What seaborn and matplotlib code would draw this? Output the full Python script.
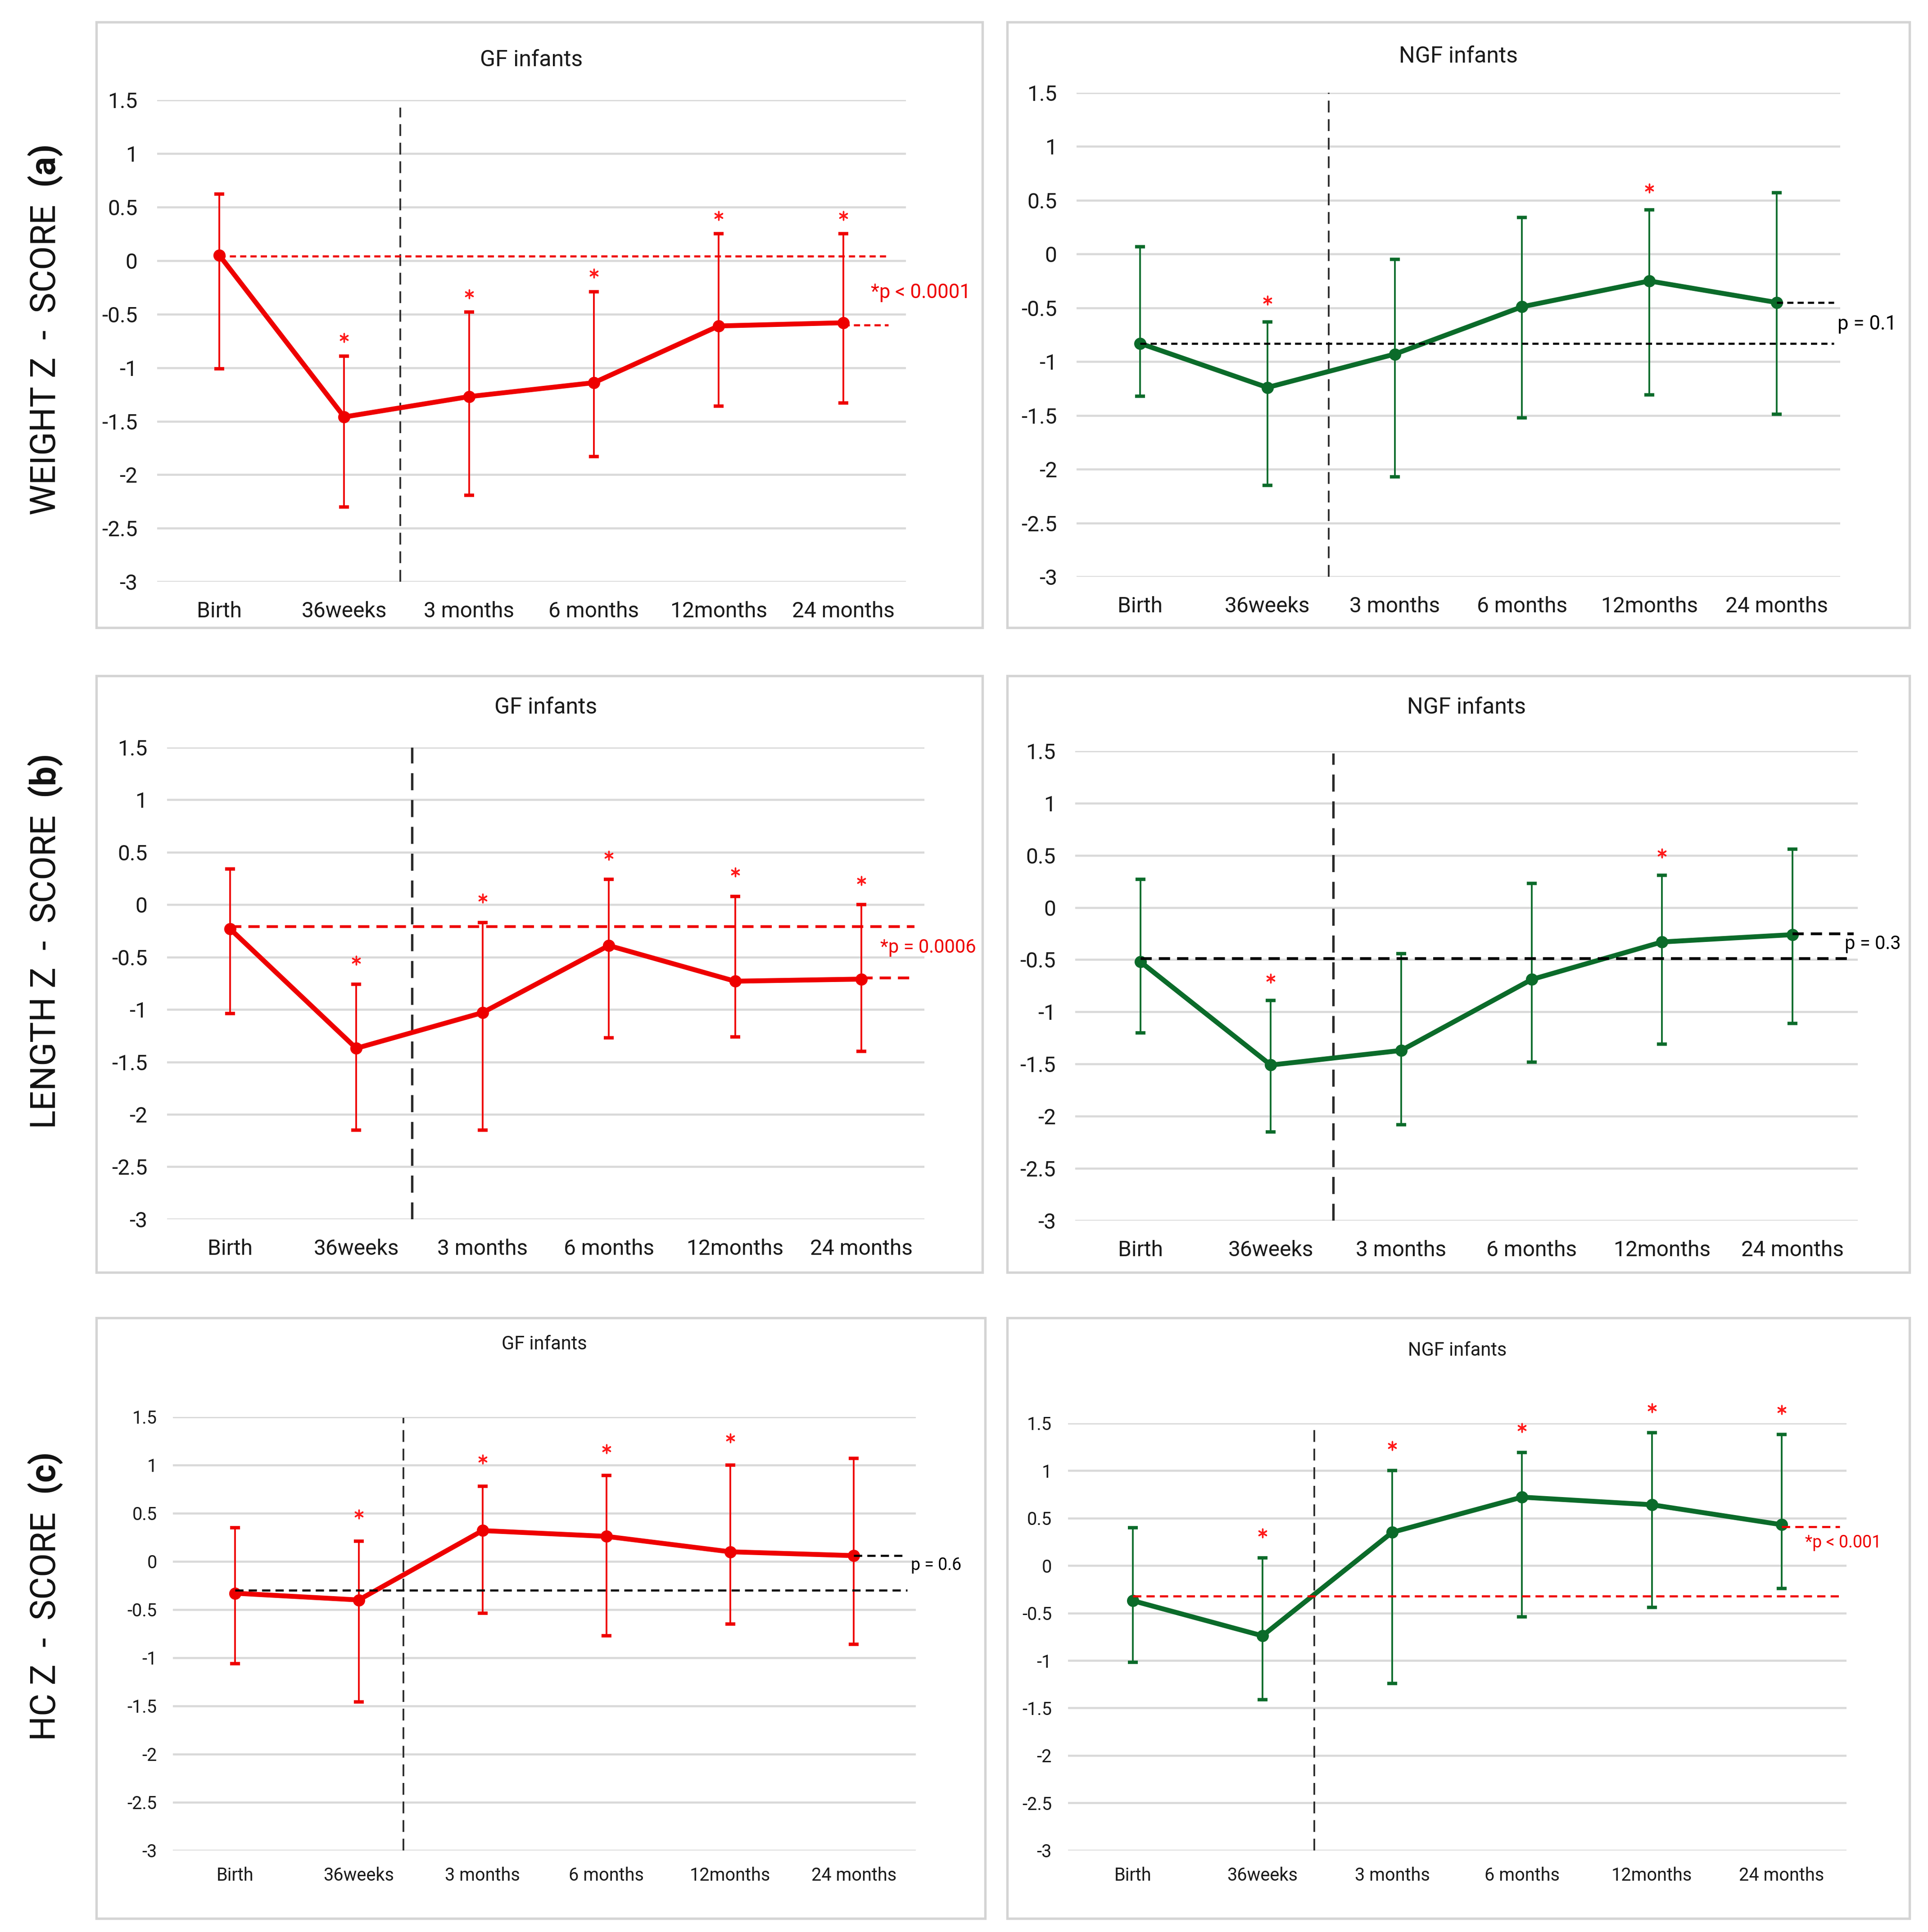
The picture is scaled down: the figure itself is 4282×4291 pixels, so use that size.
import numpy as np
import pandas as pd
import seaborn as sns
import matplotlib.pyplot as plt
from matplotlib.patches import Rectangle

# time points on the x axis
timepoints = ["Birth", "36weeks", "3 months", "6 months", "12months", "24 months"]

# WEIGHT z-score
weight_gf_mean = [0.05, -1.46, -1.27, -1.14, -0.61, -0.58]
weight_gf_upper = [0.62, -0.89, -0.48, -0.29, 0.25, 0.25]
weight_gf_lower = [-1.01, -2.30, -2.19, -1.83, -1.36, -1.33]
weight_gf_sig = [0, 1, 1, 1, 1, 1]
weight_ngf_mean = [-0.83, -1.24, -0.93, -0.49, -0.25, -0.45]
weight_ngf_upper = [0.07, -0.63, -0.05, 0.34, 0.41, 0.57]
weight_ngf_lower = [-1.32, -2.15, -2.07, -1.52, -1.31, -1.49]
weight_ngf_sig = [0, 1, 0, 0, 1, 0]

# LENGTH z-score
length_gf_mean = [-0.23, -1.37, -1.03, -0.39, -0.73, -0.71]
length_gf_upper = [0.34, -0.76, -0.17, 0.24, 0.08, 0.00]
length_gf_lower = [-1.04, -2.15, -2.15, -1.27, -1.26, -1.40]
length_gf_sig = [0, 1, 1, 1, 1, 1]
length_ngf_mean = [-0.52, -1.51, -1.37, -0.69, -0.33, -0.26]
length_ngf_upper = [0.27, -0.89, -0.44, 0.23, 0.31, 0.56]
length_ngf_lower = [-1.20, -2.15, -2.08, -1.48, -1.31, -1.11]
length_ngf_sig = [0, 1, 0, 0, 1, 0]

# HC z-score
hc_gf_mean = [-0.33, -0.40, 0.32, 0.26, 0.10, 0.06]
hc_gf_upper = [0.35, 0.21, 0.78, 0.89, 1.00, 1.07]
hc_gf_lower = [-1.06, -1.46, -0.54, -0.77, -0.65, -0.86]
hc_gf_sig = [0, 1, 1, 1, 1, 0]
hc_ngf_mean = [-0.37, -0.74, 0.35, 0.72, 0.64, 0.43]
hc_ngf_upper = [0.40, 0.08, 1.00, 1.19, 1.40, 1.38]
hc_ngf_lower = [-1.02, -1.41, -1.24, -0.54, -0.44, -0.24]
hc_ngf_sig = [0, 1, 1, 1, 1, 1]

# reference levels (birth vs 24 months) and p-values
weight_gf_ref = [0.04, -0.60]
weight_ngf_ref = [-0.83, -0.45]
length_gf_ref = [-0.21, -0.70]
length_ngf_ref = [-0.49, -0.25]
hc_gf_ref = [-0.30, 0.06]
hc_ngf_ref = [-0.32, 0.41]
p_labels = ["*p < 0.0001", "p = 0.1", "*p = 0.0006", "p = 0.3", "p = 0.6", "*p < 0.001"]

RED = "#ee0000"
GREEN = "#0b6b2a"

sns.set_theme(style="white")
plt.rcParams['font.family'] = ['Liberation Sans Narrow', 'Roboto', 'DejaVu Sans']
plt.rcParams['mathtext.fontset'] = 'custom'
plt.rcParams['mathtext.rm'] = 'Roboto'
plt.rcParams['mathtext.bf'] = 'Roboto:bold'

W, H = 1560, 1564  # layout measured on a 1560-wide view
fig = plt.figure(figsize=(4282 / 300, 4291 / 300), dpi=300)


def rect_from(x0, x1, ytop, ybot):
    return [x0 / W, 1 - ybot / H, (x1 - x0) / W, (ybot - ytop) / H]


def panel(rect, title, mean, upper, lower, sig, ref, plabel, color, ref_color,
          vline_x, vline_top, ptext_xy, fs, pfs, title_pad, star_off, ref_end,
          dash, ref_lw=1.1, vl_lw=0.9):
    ax = fig.add_axes(rect)
    x = np.arange(len(timepoints))
    mean = np.array(mean)
    upper = np.array(upper)
    lower = np.array(lower)
    df = pd.DataFrame({"x": x, "z": mean})

    for yv in np.arange(-3, 1.51, 0.5):
        ax.axhline(yv, color="#d9d9d9", lw=1.1, zorder=0)

    ax.errorbar(x, mean, yerr=[mean - lower, upper - mean], fmt="none",
                ecolor=color, elinewidth=0.9, capsize=2.6, capthick=1.8, zorder=3)
    sns.lineplot(data=df, x="x", y="z", color=color, lw=2.6, marker="o",
                 markersize=6.5, markeredgewidth=0, ax=ax, zorder=4)

    # reference dashed lines
    ax.plot([x[0], ref_end], [ref[0], ref[0]], ls=(0, dash), color=ref_color, lw=ref_lw, zorder=5)
    ax.plot([x[-1], ref_end], [ref[1], ref[1]], ls=(0, dash), color=ref_color, lw=ref_lw, zorder=5)
    ax.text(ptext_xy[0], ptext_xy[1], plabel, color=ref_color, fontsize=pfs,
            ha="left", va="center", clip_on=False)

    # vertical separator
    ax.plot([vline_x, vline_x], [-3, vline_top], ls=(0, (7, 4)), color="#2a2a2a",
            lw=vl_lw, zorder=2)

    # significance stars
    sx = x[np.array(sig) == 1]
    sy = upper[np.array(sig) == 1] + star_off
    ax.scatter(sx, sy, marker=(6, 2, 0), s=20, color="#ff1a1a", linewidths=0.8,
               zorder=6, clip_on=False)

    ax.set_xlim(-0.5, 5.5)
    ax.set_ylim(-3, 1.5)
    ax.set_yticks(np.arange(-3, 1.51, 0.5))
    ax.set_yticklabels([f"{v:g}" for v in np.arange(-3, 1.51, 0.5)])
    ax.set_xticks(x)
    ax.set_xticklabels(timepoints)
    ax.tick_params(axis="both", length=0, labelsize=fs, colors="#1a1a1a")
    ax.tick_params(axis="y", pad=fs * 0.9)
    ax.tick_params(axis="x", pad=fs * 0.9)
    ax.set_xlabel("")
    ax.set_ylabel("")
    for s in ax.spines.values():
        s.set_visible(False)
    ax.set_title(title, fontsize=fs + 0.5, pad=title_pad, color="#1a1a1a")
    return ax


# panel frames
for (x0, x1, y0, y1) in [(78, 795, 18, 508), (815, 1545, 18, 508),
                         (78, 795, 547, 1030), (815, 1545, 547, 1030),
                         (78, 797, 1067, 1553), (815, 1545, 1067, 1553)]:
    fig.add_artist(Rectangle((x0 / W, 1 - y1 / H), (x1 - x0) / W, (y1 - y0) / H,
                             transform=fig.transFigure, fill=False,
                             edgecolor="#d4d4d4", lw=1.3))

panel(rect_from(127, 733, 81, 471), "GF infants", weight_gf_mean, weight_gf_upper,
      weight_gf_lower, weight_gf_sig, weight_gf_ref, p_labels[0], RED, RED,
      1.45, 1.43, (5.22, -0.30), 11.5, 10.5, 18, 0.17, 5.36, (3, 2))
panel(rect_from(871, 1489, 75, 467), "NGF infants", weight_ngf_mean, weight_ngf_upper,
      weight_ngf_lower, weight_ngf_sig, weight_ngf_ref, p_labels[1], GREEN, "black",
      1.48, 1.5, (5.48, -0.65), 11.5, 10.5, 16, 0.2, 5.45, (3, 2))
panel(rect_from(135, 748, 605, 987), "GF infants", length_gf_mean, length_gf_upper,
      length_gf_lower, length_gf_sig, length_gf_ref, p_labels[2], RED, RED,
      1.44, 1.5, (5.15, -0.41), 11.5, 10, 18, 0.23, 5.42, (4, 2.5), 1.5, 1.3)
panel(rect_from(870, 1503, 608, 988), "NGF infants", length_ngf_mean, length_ngf_upper,
      length_ngf_lower, length_ngf_sig, length_ngf_ref, p_labels[3], GREEN, "black",
      1.48, 1.48, (5.4, -0.35), 11.5, 10, 20, 0.21, 5.47, (4, 2.5), 1.5, 1.3)
panel(rect_from(140, 741, 1147, 1498), "GF infants", hc_gf_mean, hc_gf_upper,
      hc_gf_lower, hc_gf_sig, hc_gf_ref, p_labels[4], RED, "black",
      1.36, 1.49, (5.46, -0.04), 9.5, 9, 36, 0.28, 5.43, (4, 2.5))
panel(rect_from(864, 1494, 1152, 1498), "NGF infants", hc_ngf_mean, hc_ngf_upper,
      hc_ngf_lower, hc_ngf_sig, hc_ngf_ref, p_labels[5], GREEN, RED,
      1.40, 1.43, (5.18, 0.24), 9.5, 9, 36, 0.26, 5.45, (4, 2.5))

# row labels
row_labels = [("WEIGHT Z  -  SCORE  ", "(a)", 421, 114),
              ("LENGTH Z  -  SCORE  ", "(b)", 916, 609),
              ("HC Z  -  SCORE  ", "(c)", 1412, 1174)]
for main, tag, ybot, ytop in row_labels:
    fig.text(36.5 / W, 1 - (ybot + ytop) / 2 / H, main + r"$\bf{" + tag + "}$",
             rotation=90, fontsize=18.5, ha="center", va="center", color="#111111")

plt.savefig("out.png", dpi=300)
